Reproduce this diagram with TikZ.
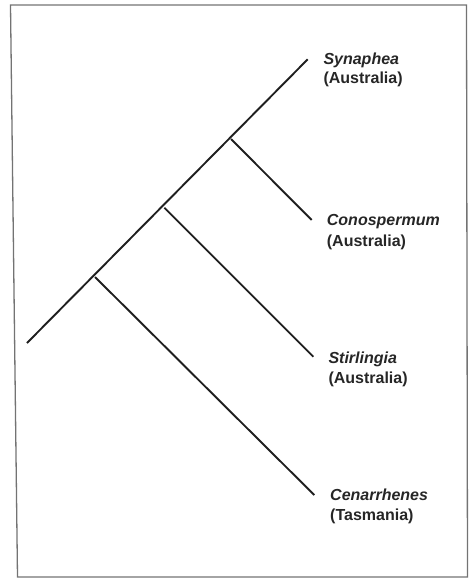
\documentclass[tikz,border=0pt]{standalone}
\usepackage{fontspec}
\setmainfont{Liberation Sans}
\begin{document}
\begin{tikzpicture}[x=1pt,y=-1pt,
  branch/.style={line width=1.9pt,draw=black!88},
  frameline/.style={line width=1.3pt,draw=black!55},
  genus/.style={anchor=base west,inner sep=0pt,font=\fontsize{16}{19}\selectfont\bfseries\itshape,text=black!85},
  region/.style={anchor=base west,inner sep=0pt,font=\fontsize{16}{19}\selectfont\bfseries,text=black!85}]
\useasboundingbox (0,0) rectangle (471,579);
% frame
\draw[frameline] (10.5,5) -- (466.5,5) -- (467.5,577) -- (17.5,577) -- cycle;
% tree
\coordinate (root) at (27,343);
\coordinate (tS) at (307.7,59.3);
\coordinate (n1) at (231,139);
\coordinate (n2) at (164.3,207.7);
\coordinate (n3) at (95,277);
\coordinate (tC) at (311.7,220);
\coordinate (tSt) at (313.3,356.7);
\coordinate (tCe) at (314.3,495);
\draw[branch] (root) -- (tS);
\draw[branch] (n1) -- (tC);
\draw[branch] (n2) -- (tSt);
\draw[branch] (n3) -- (tCe);
% labels
\node[genus] (gS) at ([shift={(15.6,4.7)}]tS) {Synaphea};
\node[region] (rS) at ([shift={(0,19)}]gS.base west) {(Australia)};
\node[genus] (gC) at ([shift={(15,5.7)}]tC) {Conospermum};
\node[region] (rC) at ([shift={(0,20.5)}]gC.base west) {(Australia)};
\node[genus] (gSt) at ([shift={(15,6.6)}]tSt) {Stirlingia};
\node[region] (rSt) at ([shift={(0,20)}]gSt.base west) {(Australia)};
\node[genus] (gCe) at ([shift={(15.7,5.7)}]tCe) {Cenarrhenes};
\node[region] (rCe) at ([shift={(0,20)}]gCe.base west) {(Tasmania)};
\end{tikzpicture}
\end{document}
